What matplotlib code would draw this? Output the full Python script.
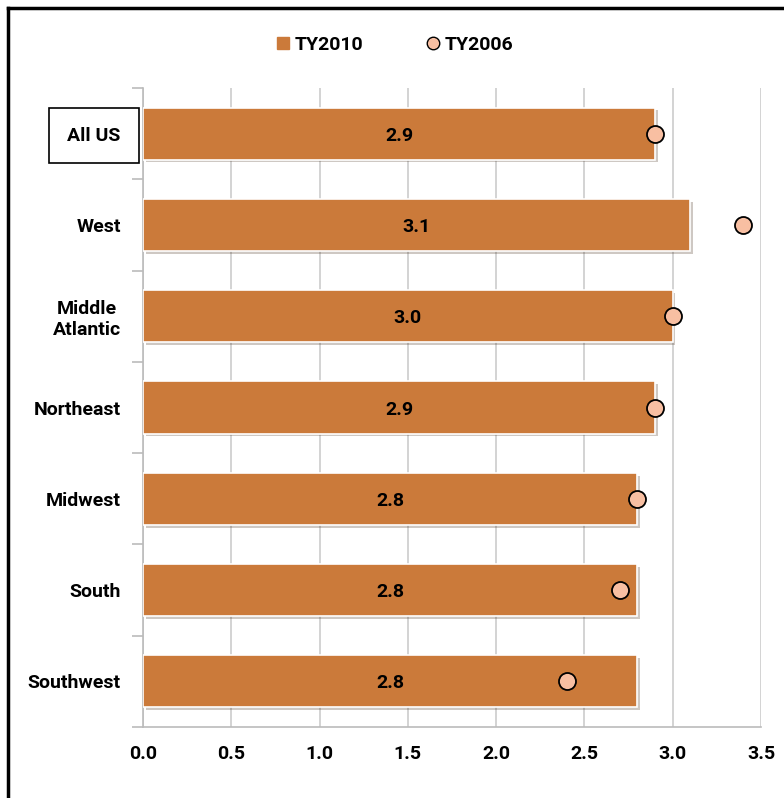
import numpy as np
import matplotlib.pyplot as plt
from matplotlib.lines import Line2D
import matplotlib.patheffects as pe

# ── Data ──────────────────────────────────────────────────────────────────────
regions = ["All US", "West", "Middle\nAtlantic", "Northeast", "Midwest", "South", "Southwest"]
ty2010 = [2.9, 3.1, 3.0, 2.9, 2.8, 2.8, 2.8]
ty2006 = [2.9, 3.4, 3.0, 2.9, 2.8, 2.7, 2.4]
xticks = [0.0, 0.5, 1.0, 1.5, 2.0, 2.5, 3.0, 3.5]

BAR_COLOR = "#CB7A3A"
DOT_COLOR = "#F8BFA2"
FONT = "Roboto"

plt.rcParams["font.family"] = [FONT, "DejaVu Sans"]
plt.rcParams["font.weight"] = "bold"

fig = plt.figure(figsize=(7.84, 7.98), dpi=100)
ax = fig.add_axes([143 / 784, 1 - 727 / 798, (761 - 143) / 784, (727 - 88) / 798])

y = np.arange(len(regions))
bars = ax.barh(y, ty2010, height=0.57, color=BAR_COLOR, edgecolor="white", linewidth=1.2,
               zorder=3)
for b in bars:
    b.set_path_effects([pe.SimplePatchShadow(offset=(2, -2), alpha=0.25), pe.Normal()])
ax.scatter(ty2006, y, s=150, color=DOT_COLOR, edgecolor="black", linewidth=1.3, zorder=4)

# value labels centred in each bar
for yi, v in zip(y, ty2010):
    ax.text(v / 2, yi, f"{v:.1f}", ha="center", va="center_baseline", fontsize=14,
            fontweight="bold", color="black", zorder=5)

ax.set_xlim(0, 3.5)
ax.set_ylim(len(regions) - 0.5, -0.5)
ax.set_xticks(xticks)
ax.set_xticklabels([f"{t:.1f}" for t in xticks], fontsize=14, fontweight="bold")
ax.tick_params(axis="x", length=0, pad=13)
ax.grid(axis="x", color="#CCCCCC", linewidth=1.2, zorder=0)

# category labels, ticks at boundaries
ax.set_yticks(y)
ax.set_yticklabels(regions, fontsize=14, fontweight="bold", ha="right", multialignment="center")
ax.tick_params(axis="y", length=0, pad=16)
ax.set_yticks(np.arange(-0.5, len(regions), 1), minor=True)
ax.tick_params(axis="y", which="minor", length=8, color="#BBBBBB", width=1.2)
ax.get_yticklabels()[0].set_bbox(dict(facecolor="white", edgecolor="black", linewidth=1.2,
                                      boxstyle="square,pad=0.95"))

for s in ["top", "right"]:
    ax.spines[s].set_visible(False)
ax.spines["left"].set_color("#BBBBBB")
ax.spines["bottom"].set_color("#BBBBBB")
ax.spines["left"].set_linewidth(1.2)
ax.spines["bottom"].set_linewidth(1.2)

handles = [Line2D([], [], marker="s", color=BAR_COLOR, linestyle="none", markersize=8),
           Line2D([], [], marker="o", markerfacecolor=DOT_COLOR, markeredgecolor="black",
                  linestyle="none", markersize=9)]
fig.legend(handles, ["TY2010", "TY2006"], loc="center", bbox_to_anchor=(0.5, 1 - 45 / 798),
           ncol=2, frameon=False, handletextpad=0.0, columnspacing=3.0,
           handlelength=1.2, prop={"weight": "bold", "size": 14})

# outer frame (left and top edges visible)
fig.add_artist(Line2D([8 / 784, 8 / 784], [0, 1 - 8 / 798], color="black", linewidth=2.5,
                      transform=fig.transFigure))
fig.add_artist(Line2D([8 / 784, 1], [1 - 8 / 798, 1 - 8 / 798], color="black", linewidth=2.5,
                      transform=fig.transFigure))

fig.savefig("out.png", dpi=100)
